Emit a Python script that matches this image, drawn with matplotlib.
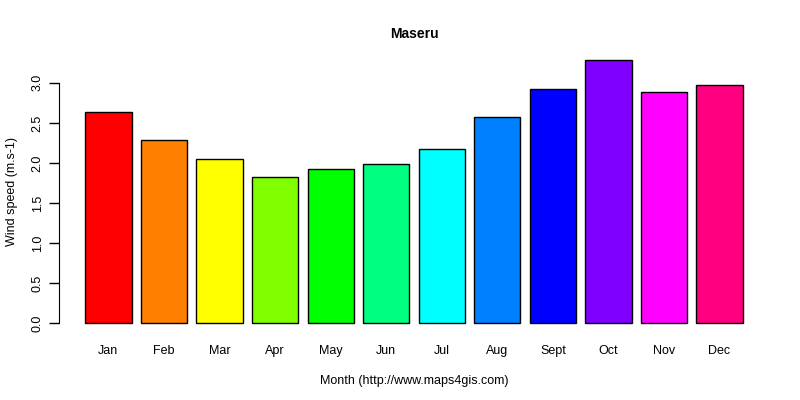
import numpy as np
import matplotlib
matplotlib.use('Agg')
import matplotlib.pyplot as plt

plt.rcParams['font.family'] = ['Liberation Sans', 'DejaVu Sans']

months = ['Jan', 'Feb', 'Mar', 'Apr', 'May', 'Jun', 'Jul', 'Aug', 'Sept', 'Oct', 'Nov', 'Dec']
wind = [2.64, 2.29, 2.05, 1.82, 1.92, 1.99, 2.17, 2.58, 2.92, 3.29, 2.88, 2.97]
colors = ['#FF0000', '#FF8000', '#FFFF00', '#80FF00', '#00FF00', '#00FF80',
          '#00FFFF', '#0080FF', '#0000FF', '#8000FF', '#FF00FF', '#FF0080']
yticks = [0.0, 0.5, 1.0, 1.5, 2.0, 2.5, 3.0]

# R barplot layout: width 1, space 0.2
x = 0.2 + 1.2 * np.arange(len(months)) + 0.5

fig = plt.figure(figsize=(8, 4), dpi=100)
ax = fig.add_axes([0.07375, 0.165, 0.8875, 0.7125])
ax.bar(x, wind, width=1.0, color=colors, edgecolor='black', linewidth=1)

xmax = x[-1] + 0.5
pad = 0.04 * (xmax - 0.2)
ax.set_xlim(0.2 - pad, xmax + pad)
ymax = max(wind)
ax.set_ylim(-0.04 * ymax, ymax * 1.04)

for s in ['top', 'right', 'bottom']:
    ax.spines[s].set_visible(False)
ax.spines['left'].set_bounds(0, 3.0)

ax.set_yticks(yticks)
ax.set_yticklabels([f'{v:.1f}' for v in yticks], rotation=90, va='center', fontsize=9)
ax.tick_params(axis='y', length=7, width=1, pad=4)
ax.set_xticks(x)
ax.set_xticklabels(months, fontsize=9)
ax.tick_params(axis='x', length=0, pad=8)

ax.set_title('Maseru', fontsize=10, fontweight='bold', pad=8)
ax.set_xlabel('Month (http://www.maps4gis.com)', fontsize=9, labelpad=13)
ax.set_ylabel('Wind speed (m.s-1)', fontsize=9, labelpad=10)

fig.savefig('out.png', dpi=100)
